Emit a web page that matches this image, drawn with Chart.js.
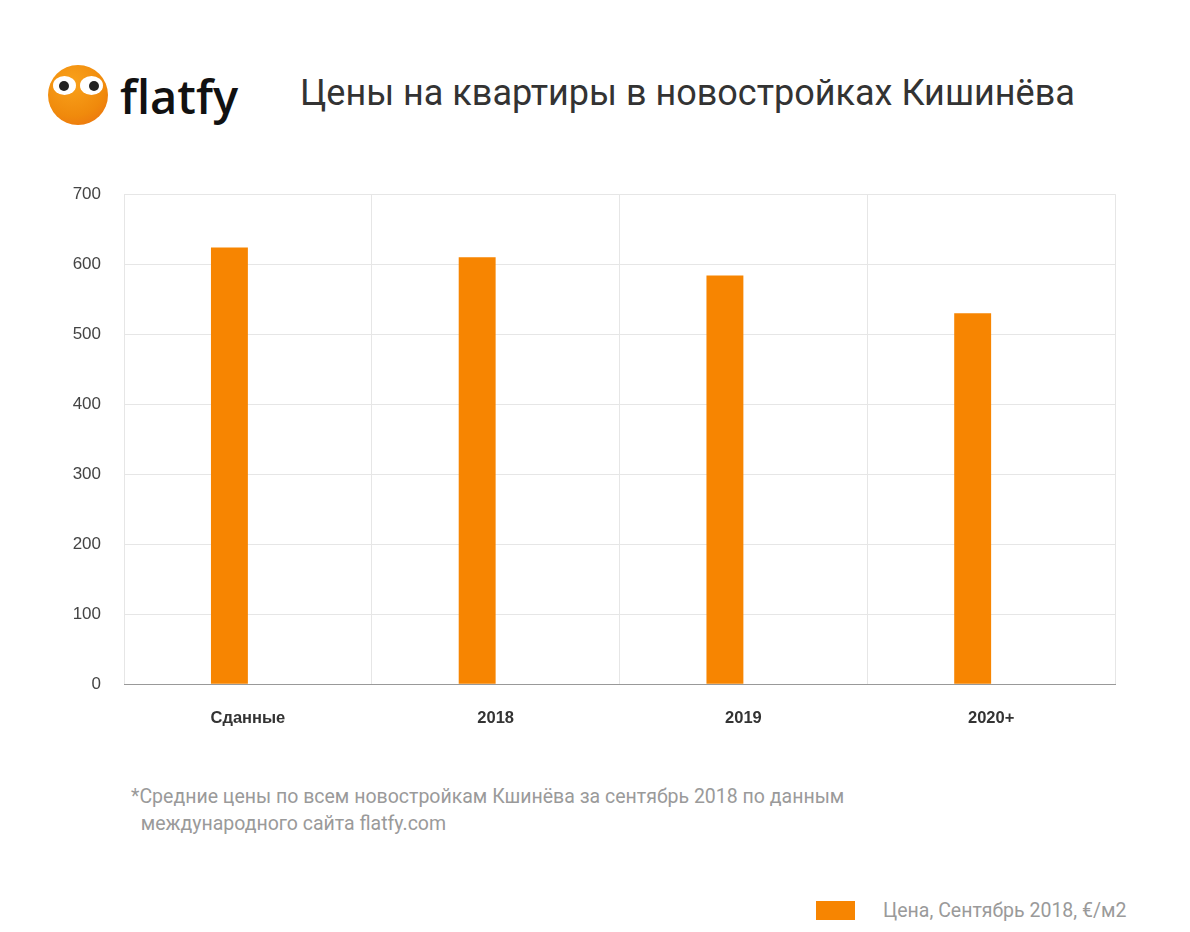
<!DOCTYPE html>
<html>
<head>
<meta charset="utf-8">
<script src="https://cdn.jsdelivr.net/npm/chart.js@4/dist/chart.umd.min.js"></script>
<style>
  body { margin: 0; background: #fff; width: 1190px; height: 932px; position: relative; overflow: hidden; font-family: Roboto, 'Liberation Sans', sans-serif; }
  .logo { position: absolute; left: 48px; top: 65px; width: 60px; height: 60px; border-radius: 50%;
          background: radial-gradient(circle at 40% 30%, #f9a21b, #f08a0c 60%, #ea6c10); }
  .eye { position: absolute; top: 11px; width: 23px; height: 19px; border-radius: 50%; background: #fff; }
  .eye.l { left: 5px; } .eye.r { left: 32px; }
  .pupil { position: absolute; top: 5px; width: 10px; height: 10px; border-radius: 50%; background: #222; }
  .brand { position: absolute; left: 120px; top: 64px; font-size: 47px; font-family: 'Open Sans', sans-serif; font-weight: 600; color: #111; }
  .title { position: absolute; left: 300px; top: 72px; font-size: 36px; color: #333; }
  .note { position: absolute; left: 131px; top: 783px; font-size: 19.5px; line-height: 27px; color: #9a9a9a; }
  .legend { position: absolute; left: 816px; top: 899px; font-size: 19.5px; color: #9a9a9a; }
  .legend span { display: inline-block; width: 39px; height: 19px; background: #f78501; vertical-align: -3px; margin-right: 28px; }
  #wrap { position: absolute; left: 40px; top: 161px; width: 1100px; height: 591px; }
</style>
</head>
<body>
<div class="logo">
  <div class="eye l"><div class="pupil" style="left:6px"></div></div>
  <div class="eye r"><div class="pupil" style="left:9px"></div></div>
</div>
<div class="brand">flatfy</div>
<div class="title">Цены на квартиры в новостройках Кишинёва</div>
<div id="wrap"><canvas id="chart"></canvas></div>
<div class="note">*Средние цены по всем новостройкам Кшинёва за сентябрь 2018 по данным<br>&nbsp;&nbsp;международного сайта flatfy.com</div>
<div class="legend"><span></span>Цена, Сентябрь 2018, €/м2</div>
<script>
const categories = ['Сданные', '2018', '2019', '2020+'];
const prices = [624, 610, 584, 530];
const emptySeries = [null, null, null, null];
const yTicks = [0, 100, 200, 300, 400, 500, 600, 700];

new Chart(document.getElementById('chart'), {
    type: 'bar',
    data: {
        labels: categories,
        datasets: [{
            label: 'Цена, Сентябрь 2018, €/м2',
            data: prices,
            backgroundColor: '#f78501',
            categoryPercentage: 0.298,
            barPercentage: 1
        }, {
            label: '',
            data: emptySeries,
            categoryPercentage: 0.298,
            barPercentage: 1
        }]
    },
    options: {
        responsive: true,
        maintainAspectRatio: false,
        animation: false,
        layout: { padding: { top: 0, right: 25, left: 0, bottom: 0 } },
        plugins: { legend: { display: false }, tooltip: { enabled: false } },
        scales: {
            x: {
                grid: { color: '#e6e6e6', offset: true, drawTicks: false },
                border: { color: '#999' },
                ticks: { color: '#333', font: { family: "'Liberation Sans', Arial", size: 16.5, weight: 'bold' }, padding: 24 }
            },
            y: {
                min: 0, max: 700,
                afterFit: s => { s.width = 84; },
                afterBuildTicks: s => { s.ticks = yTicks.map(v => ({ value: v })); },
                grid: { color: '#e6e6e6', drawTicks: false },
                border: { display: false },
                ticks: { color: '#444', font: { family: "'Liberation Sans', Arial", size: 17 }, padding: 23 }
            }
        }
    }
});
</script>
</body>
</html>
